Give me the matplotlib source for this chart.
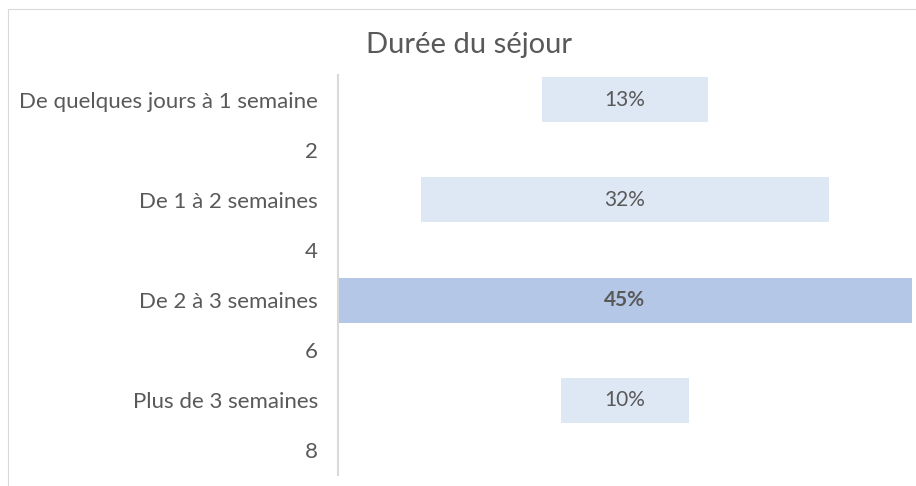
import matplotlib
matplotlib.use("Agg")
import matplotlib.pyplot as plt
from matplotlib.patches import Rectangle

categories = ["De quelques jours à 1 semaine", "2", "De 1 à 2 semaines", "4",
              "De 2 à 3 semaines", "6", "Plus de 3 semaines", "8"]
values = [13, 0, 32, 0, 45, 0, 10, 0]
labels = ["13%", "", "32%", "", "45%", "", "10%", ""]
highlight = [False, False, False, False, True, False, False, False]

plt.rcParams['font.family'] = ['Lato', 'DejaVu Sans']
text_color = "#595959"

fig = plt.figure(figsize=(9.16, 4.86), dpi=100)
fig.patches.append(Rectangle((8/916, -0.1), 1.2, 1 - 9/486 + 0.1, transform=fig.transFigure,
                             fill=False, edgecolor="#D9D9D9", linewidth=0.8))
ax = fig.add_axes([338/916, 1 - 475/486, (912 - 338)/916, 400/486])

vmax = max(values)
ypos = list(range(len(categories)))
for y, v, lab, hl in zip(ypos, values, labels, highlight):
    if v <= 0:
        continue
    ax.barh(y, v, left=(vmax - v) / 2, height=0.9,
            color="#B4C7E7" if hl else "#DEE8F5", edgecolor="none")
    ax.text(vmax / 2, y, lab, ha="center", va="center", fontsize=15,
            color=text_color, fontweight="bold" if hl else "normal")

ax.set_xlim(0, vmax)
ax.set_ylim(len(categories) - 0.5, -0.5)
ax.set_yticks(ypos)
ax.set_yticklabels(categories, fontsize=16, color=text_color)
ax.tick_params(axis="y", length=0, pad=14.5)
ax.set_xticks([])
for s in ["top", "right", "bottom"]:
    ax.spines[s].set_visible(False)
ax.spines["left"].set_color("#D9D9D9")
ax.spines["left"].set_linewidth(1.5)

fig.text(469/916, 1 - 45/486, "Durée du séjour", ha="center", va="center",
         fontsize=21, color=text_color)

fig.savefig("out.png", dpi=100)
